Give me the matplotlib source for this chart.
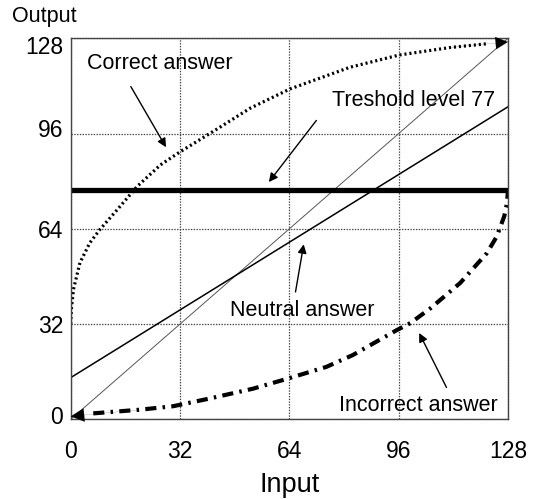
import matplotlib
matplotlib.use("Agg")
import matplotlib.pyplot as plt
import matplotlib.transforms as mtransforms

plt.rcParams['font.family'] = ['Liberation Sans', 'DejaVu Sans']
plt.rcParams['lines.scale_dashes'] = False

# axis ticks
ticks = [0, 32, 64, 96, 128]
tick_labels = ['0', '32', '64', '96', '128']

# reference lines
diag_x = [0, 128]
diag_y = [0, 128]
neutral_x = [0, 128]
neutral_y = [14, 105]
threshold = 77

# "correct answer" curve
correct_x = [0, 0.2, 0.8, 2.7, 5.6, 8.5, 13.6, 19.5, 26.3, 31.8, 42.8, 52.5,
             64.2, 81.8, 96.2, 111, 122, 128]
correct_y = [32, 37, 43.6, 52.6, 59.3, 63.7, 70.4, 78.3, 85.5, 89.7, 97.5, 104.5,
             111, 118.3, 122.4, 124.9, 126.2, 126.8]

# "incorrect answer" curve
incorrect_x = [0, 6.6, 20, 30, 40.7, 53.4, 63.6, 74.8, 82.6, 95.5, 99.4, 105.3,
               114, 121.8, 124.7, 126.9, 127.7, 128]
incorrect_y = [1, 2, 3.2, 4.4, 7, 10.3, 13.7, 17.6, 21.6, 30, 32.3, 37.3,
               45.8, 55.8, 61.4, 68.2, 72.5, 77]

fig = plt.figure(figsize=(5.34, 4.99), dpi=100)
ax = fig.add_axes([0.1324, 0.1597, 0.8189, 0.7635])
ax.set_xlim(0, 128)
ax.set_ylim(0, 128)

# grid + frame, both dotted grey
ax.set_xticks(ticks)
ax.set_yticks(ticks)
ax.grid(True, color='#444444', linestyle=(0, (1, 1)), linewidth=0.9)
for s in ax.spines.values():
    s.set_linestyle((0, (1, 1)))
    s.set_color('#444444')
    s.set_linewidth(1.0)

ax.plot(diag_x, diag_y, color='#555555', lw=0.7)
ax.plot(neutral_x, neutral_y, color='black', lw=1.1)
ax.plot([0, 128], [threshold, threshold], color='black', lw=3.8, solid_capstyle='butt')

ax.plot(correct_x[:-1], correct_y[:-1], color='black', lw=2.3,
        linestyle=(0, (1.5, 2.1)), dash_capstyle='butt')
ax.annotate('', xy=(correct_x[-1], correct_y[-1]), xytext=(correct_x[-3], correct_y[-3]),
            arrowprops=dict(arrowstyle='-|>', color='black', lw=0.1,
                            mutation_scale=22, shrinkA=0, shrinkB=0))

ax.plot(incorrect_x[1:], incorrect_y[1:], color='black', lw=3.0,
        linestyle=(0, (8, 4.5, 1.8, 4.5)), dash_capstyle='butt')
ax.annotate('', xy=(incorrect_x[0], incorrect_y[0]), xytext=(incorrect_x[2], incorrect_y[2]),
            arrowprops=dict(arrowstyle='-|>', color='black', lw=0.1,
                            mutation_scale=24, shrinkA=0, shrinkB=0))

# labels with pointer arrows
notes = [
    ('Correct answer', (26.1, 119.6), (17.6, 111.8), (27.9, 91.4)),
    ('Treshold level 77', (100.4, 107.2), (71.9, 100.4), (58.0, 79.7)),
    ('Neutral answer', (67.7, 36.7), (65.8, 42.8), (68.2, 58.8)),
    ('Incorrect answer', (101.9, 4.8), (110.0, 10.7), (102.0, 29.0)),
]
for txt, pos, start, end in notes:
    ax.text(pos[0], pos[1], txt, ha='center', va='center', fontsize=15.5)
    ax.annotate('', xy=end, xytext=start,
                arrowprops=dict(arrowstyle='-|>', color='black', lw=1.0,
                                mutation_scale=13, shrinkA=0, shrinkB=0))

ax.tick_params(length=0, labelsize=16.5)
ax.tick_params(axis='x', pad=15)
ax.tick_params(axis='y', pad=5.5)
ax.set_xticklabels(tick_labels)
ax.set_yticklabels(tick_labels)

# nudge y tick labels slightly (in points)
y_shift = [3, 0, 0, 4, -5]
for lab, dy in zip(ax.get_yticklabels(), y_shift):
    lab.set_transform(lab.get_transform() +
                      mtransforms.ScaledTranslation(0, dy / 72, fig.dpi_scale_trans))

fig.text(0.0824, 0.966, 'Output', ha='center', va='center', fontsize=15.5)
fig.text(0.543, 0.028, 'Input', ha='center', va='center', fontsize=19.5)

fig.savefig('out.png', dpi=100)
